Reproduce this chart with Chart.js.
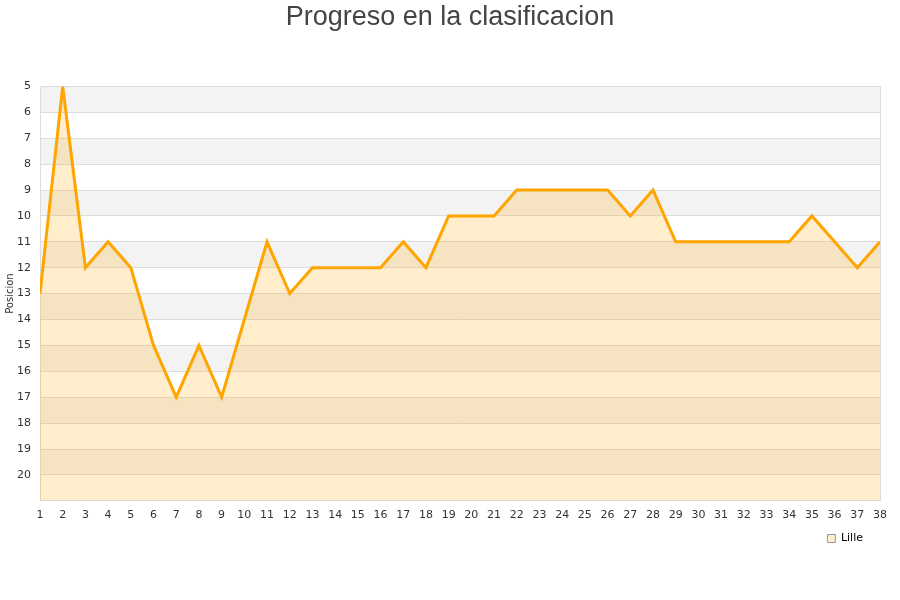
<!DOCTYPE html>
<html>
<head>
<meta charset="utf-8">
<script src="https://cdn.jsdelivr.net/npm/chart.js@4/dist/chart.umd.min.js"></script>
<style>
  html, body { margin: 0; padding: 0; background: #fff; }
  #wrap { width: 900px; height: 600px; }
</style>
</head>
<body>
<div id="wrap"><canvas id="lineChart" width="900" height="600"></canvas></div>
<script>
// jornadas y posiciones
var jornadas = [1,2,3,4,5,6,7,8,9,10,11,12,13,14,15,16,17,18,19,20,21,22,23,24,25,26,27,28,29,30,31,32,33,34,35,36,37,38];
var posiciones = [13,5,12,11,12,15,17,15,17,14,11,13,12,12,12,12,11,12,10,10,10,9,9,9,9,9,10,9,11,11,11,11,11,11,10,11,12,11];
var equipo = 'Lille';

// alternating grey / white bands behind the plot
var bandsPlugin = {
    id: 'bands',
    afterLayout: function (chart) {
        // nudge the legend a bit left and up
        chart.legend.right -= 31;
        chart.legend.top -= 3;
        chart.legend.bottom -= 3;
    },
    beforeDraw: function (chart) {
        var ctx = chart.ctx, y = chart.scales.y, a = chart.chartArea;
        ctx.save();
        for (var v = 5; v < 21; v++) {
            if ((v - 5) % 2 === 0) {
                var p1 = y.getPixelForValue(v), p2 = y.getPixelForValue(v + 1);
                ctx.fillStyle = '#f3f3f3';
                ctx.fillRect(a.left, p1, a.right - a.left, p2 - p1);
            }
        }
        ctx.restore();
    },
    afterDatasetsDraw: function (chart) {
        var ctx = chart.ctx, a = chart.chartArea;
        ctx.save();
        ctx.strokeStyle = '#dddddd';
        ctx.lineWidth = 1;
        ctx.beginPath();
        ctx.moveTo(a.right + 0.5, a.top);
        ctx.lineTo(a.right + 0.5, a.bottom);
        ctx.stroke();
        ctx.restore();
    }
};

var ctx = document.getElementById('lineChart').getContext('2d');
var myChart = new Chart(ctx, {
    type: 'line',
    data: {
        datasets: [{
            label: equipo,
            data: jornadas.map(function (j, i) { return { x: j, y: posiciones[i] }; }),
            borderColor: '#ffa500',
            backgroundColor: 'rgba(255,165,0,0.2)',
            borderWidth: 3,
            pointRadius: 0,
            tension: 0,
            fill: { value: 21 }
        }]
    },
    options: {
        responsive: false,
        animation: false,
        layout: { padding: { left: 0, right: 0, top: 0, bottom: 43 } },
        plugins: {
            title: {
                display: true,
                text: 'Progreso en la clasificacion',
                color: '#444',
                font: { family: 'Liberation Sans', size: 27, weight: 'normal' },
                padding: { top: 1, bottom: 53 }
            },
            legend: {
                position: 'bottom',
                align: 'end',
                labels: {
                    boxWidth: 8,
                    boxHeight: 8,
                    color: '#222',
                    font: { family: 'DejaVu Sans', size: 11 },
                    padding: 6,
                    generateLabels: function (chart) {
                        return [{
                            text: equipo,
                            fillStyle: '#ffecc8',
                            strokeStyle: '#999',
                            lineWidth: 1,
                            datasetIndex: 0
                        }];
                    }
                }
            },
            tooltip: { enabled: false }
        },
        scales: {
            x: {
                type: 'linear',
                min: 1,
                max: 38,
                grid: { display: false, drawTicks: false },
                border: { color: '#dddddd' },
                ticks: {
                    stepSize: 1,
                    autoSkip: false,
                    maxRotation: 0,
                    color: '#333',
                    font: { family: 'DejaVu Sans', size: 11 },
                    padding: 8
                }
            },
            y: {
                reverse: true,
                min: 5,
                max: 21,
                afterFit: function (s) { s.width = 40; },
                grid: { color: '#dddddd', drawTicks: false },
                border: { color: '#dddddd' },
                title: {
                    display: true,
                    text: 'Posicion',
                    color: '#333',
                    font: { family: 'DejaVu Sans', size: 10 },
                    padding: { top: 4, bottom: 0 }
                },
                ticks: {
                    stepSize: 1,
                    color: '#333',
                    font: { family: 'DejaVu Sans', size: 11 },
                    padding: 9,
                    callback: function (v) { return v === 21 ? '' : v; }
                }
            },
            // empty right margin so the title centres on the full canvas
            margen: {
                type: 'linear',
                position: 'right',
                display: true,
                afterFit: function (s) { s.width = 20; },
                grid: { display: false },
                border: { display: false },
                ticks: { display: false }
            }
        }
    },
    plugins: [bandsPlugin]
});
</script>
</body>
</html>
